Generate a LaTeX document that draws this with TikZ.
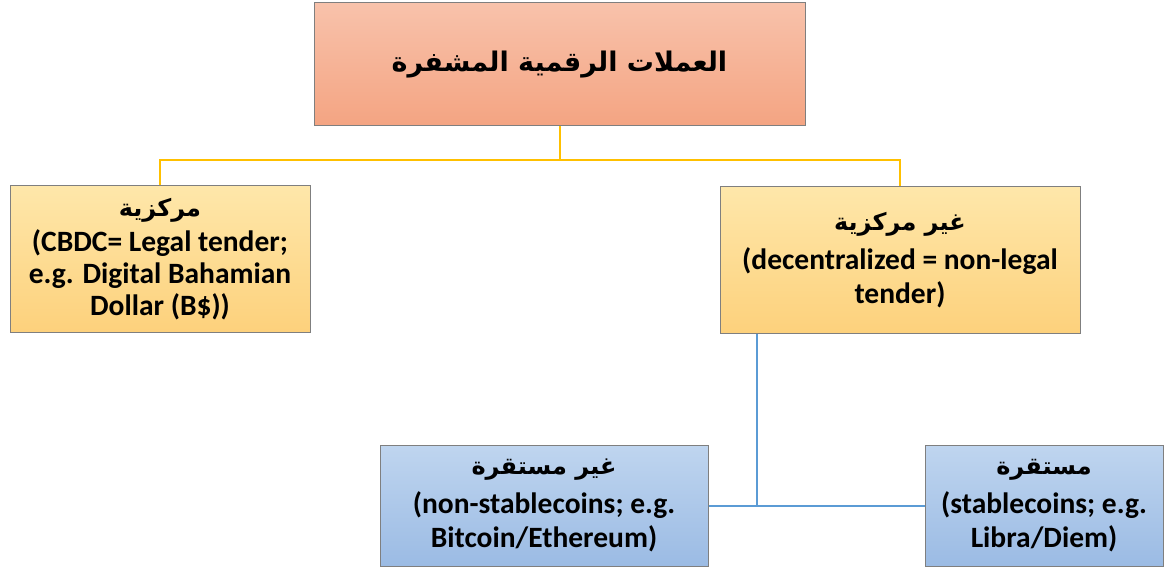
\documentclass[tikz,border=0pt]{standalone}
\usepackage{fontspec}
\setmainfont{Carlito}
\newfontfamily\arabicfont[Script=Arabic]{DejaVu Sans}
\TeXXeTstate=1
\usetikzlibrary{calc}

\definecolor{salmonTop}{HTML}{F8C2AB}
\definecolor{salmonBot}{HTML}{F4A482}
\definecolor{sandTop}{HTML}{FEE7AA}
\definecolor{sandBot}{HTML}{FDD17C}
\definecolor{skyTop}{HTML}{BFD5EF}
\definecolor{skyBot}{HTML}{9BBBE4}
\definecolor{edgeGray}{HTML}{7F7F7F}
\definecolor{amber}{HTML}{FFC000}
\definecolor{steel}{HTML}{5B9BD5}

\newcommand{\ar}[1]{{\arabicfont\bfseries\fontsize{24}{32}\selectfont\beginR #1\endR}}

\tikzset{
  box/.style={draw=edgeGray, line width=1pt, align=center, inner sep=0pt,
    font={\bfseries\fontsize{29.5}{32}\selectfont}},
  roomy/.style={font={\bfseries\fontsize{29.5}{34}\selectfont}},
  salmonbox/.style={box, top color=salmonTop, bottom color=salmonBot},
  sandbox/.style={box, top color=sandTop, bottom color=sandBot},
  skybox/.style={box, top color=skyTop, bottom color=skyBot},
  yline/.style={draw=amber, line width=2pt},
  bline/.style={draw=steel, line width=2pt}
}

\begin{document}
\begin{tikzpicture}[x=1pt, y=-1pt]
  \useasboundingbox (0,0) rectangle (1164,569);

  % root
  \node[salmonbox, minimum width=491, minimum height=123] (root) at (559.5,64.5)
    {{\arabicfont\bfseries\fontsize{27}{34}\selectfont\beginR العملات الرقمية المشفرة\endR}};

  % second level
  \node[sandbox, minimum width=300, minimum height=146] (cen) at (160,259)
    {\ar{مركزية}\\[3pt](CBDC= Legal tender;\\e.g. Digital Bahamian\\Dollar (B\$))};
  \node[sandbox, roomy, minimum width=360, minimum height=147] (dec) at (900,260)
    {\ar{غير مركزية}\\[5pt](decentralized = non-legal\\tender)};

  % third level
  \node[skybox, roomy, minimum width=328, minimum height=121] (unst) at (544,505.5)
    {\ar{غير مستقرة}\\[5pt](non-stablecoins; e.g.\\Bitcoin/Ethereum)};
  \node[skybox, roomy, minimum width=238, minimum height=121] (stab) at (1044,505.5)
    {\ar{مستقرة}\\[5pt](stablecoins; e.g.\\Libra/Diem)};

  % amber tree
  \coordinate (ybus) at ($(root.south)+(0,34)$);
  \draw[yline] (root.south) -- (ybus);
  \draw[yline] (cen.north) |- (ybus) -| (dec.north);

  % blue tree
  \coordinate (bstem) at ($(dec.south west)+(37,0)$);
  \draw[bline] (bstem) -- (bstem |- unst.east);
  \draw[bline] (unst.east) -- (stab.west);
\end{tikzpicture}
\end{document}
